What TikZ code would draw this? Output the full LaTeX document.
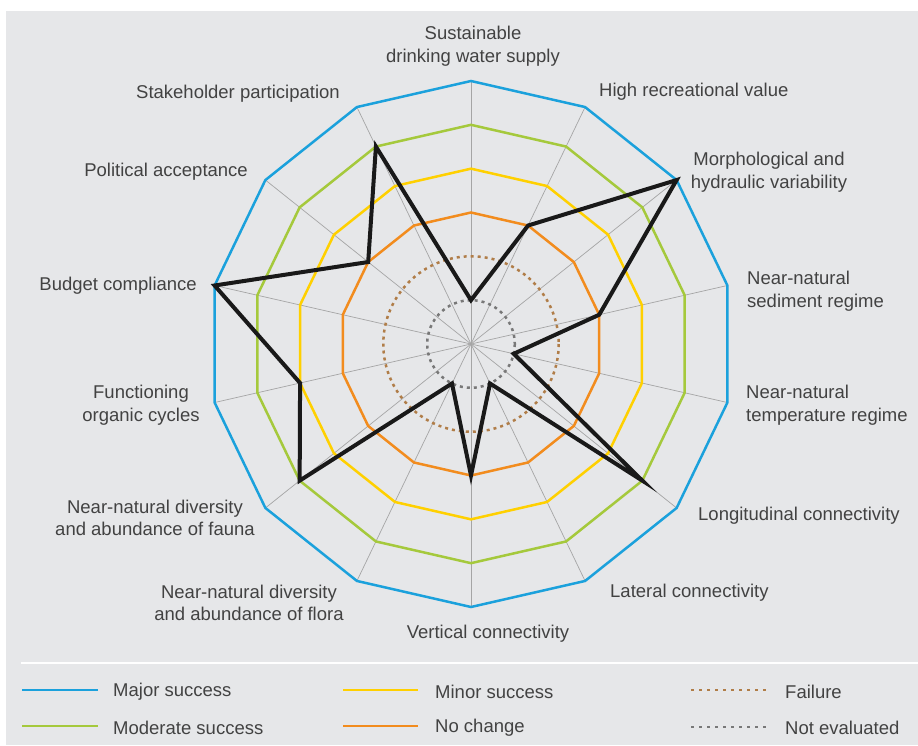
\documentclass[tikz,border=0pt]{standalone}
\usepackage{xcolor}
\usepackage{fontspec}
\setmainfont{Liberation Sans}
\usepackage{tikz}
\usetikzlibrary{calc}
\definecolor{panelgray}{RGB}{230,231,233}
\definecolor{labelgray}{RGB}{66,66,66}
\definecolor{majorblue}{RGB}{27,161,220}
\definecolor{moderategreen}{RGB}{165,201,60}
\definecolor{minoryellow}{RGB}{255,208,0}
\definecolor{nochangeorange}{RGB}{242,140,30}
\definecolor{failurebrown}{RGB}{176,125,72}
\definecolor{notevalgray}{RGB}{120,120,120}
\definecolor{spokegray}{RGB}{165,165,165}

\begin{document}
\begin{tikzpicture}[x=1pt,y=-1pt,
    lbl/.style={text=labelgray,font=\fontsize{18.5}{22.5}\selectfont,inner sep=0pt},
    ring/.style={line width=2.5pt,line join=miter},
    dotring/.style={line width=2.5pt,dash pattern=on 3pt off 4pt},
    keydots/.style={line width=2.5pt,dash pattern=on 3pt off 5pt},
    spoke/.style={draw=spokegray,line width=0.7pt},
    scoreline/.style={draw=black!90,line width=4pt,line join=miter}]
    % Sfondo
    \useasboundingbox (0,0) rectangle (918,745);
    \fill[panelgray] (6,11) rectangle (918,745);

    % Radar
    \begin{scope}[shift={(471,344)}]
        \coordinate (centre) at (0,0);
        \foreach \k in {0,...,13}
            \draw[spoke] (centre) -- (\k*360/14-90:263);
        % cerchi interni
        \draw[dotring,notevalgray] (centre) circle (43.8);
        \draw[dotring,failurebrown] (centre) circle (87.7);
        % poligoni
        \foreach \lev/\col in {3/nochangeorange,4/minoryellow,5/moderategreen,6/majorblue}
            \draw[ring,\col] (-90:\lev*263/6)
                \foreach \k in {1,...,13} { -- (\k*360/14-90:\lev*263/6) } -- cycle;
        % valutazione
        \foreach \v [count=\k from 0] in {1,3,6,3,1,5,1,3,1,5,4,6,3,5}
            \coordinate (p\k) at (\k*360/14-90:\v*263/6);
        \draw[scoreline] (p0) \foreach \k in {1,...,13} { -- (p\k) } -- cycle;
    \end{scope}

    % Etichette
    \node[lbl,align=center] (water) at (473,46) {Sustainable\\drinking water supply};
    \node[lbl,anchor=west] (recreation) at (599,92) {High recreational value};
    \node[lbl,align=center] (morpho) at (769,172) {Morphological and\\hydraulic variability};
    \node[lbl,anchor=west,align=left] (sediment) at (747,291) {Near-natural\\sediment regime};
    \node[lbl,anchor=west,align=left] (temperature) at (746,405) {Near-natural\\temperature regime};
    \node[lbl,anchor=west] (longitudinal) at (698,516) {Longitudinal connectivity};
    \node[lbl,anchor=west] (lateral) at (610,593) {Lateral connectivity};
    \node[lbl] (vertical) at (488,634) {Vertical connectivity};
    \node[lbl,align=center] (flora) at (249,603) {Near-natural diversity\\and abundance of flora};
    \node[lbl,align=center] (fauna) at (155,518) {Near-natural diversity\\and abundance of fauna};
    \node[lbl,align=center] (cycles) at (141,405) {Functioning\\organic cycles};
    \node[lbl,anchor=east] (budget) at (197,286) {Budget compliance};
    \node[lbl,anchor=east] (political) at (248,172) {Political acceptance};
    \node[lbl,anchor=east] (stakeholder) at (340,94) {Stakeholder participation};

    % Legenda
    \draw[white,line width=1.5pt] (21,663) -- (918,663);
    \draw[ring,majorblue] (22,690) -- (98,690);
    \node[lbl,anchor=west] (major) at (113,692) {Major success};
    \draw[ring,moderategreen] (22,726) -- (98,726);
    \node[lbl,anchor=west] (moderate) at (113,728) {Moderate success};
    \draw[ring,minoryellow] (343,690) -- (418,690);
    \node[lbl,anchor=west] (minor) at (435,692) {Minor success};
    \draw[ring,nochangeorange] (343,726) -- (418,726);
    \node[lbl,anchor=west] (nochange) at (435,728) {No change};
    \draw[keydots,failurebrown] (691,690) -- (768,690);
    \node[lbl,anchor=west] (failure) at (785,692) {Failure};
    \draw[keydots,notevalgray] (691,727) -- (768,727);
    \node[lbl,anchor=west] (noteval) at (785,728) {Not evaluated};
\end{tikzpicture}
\end{document}
